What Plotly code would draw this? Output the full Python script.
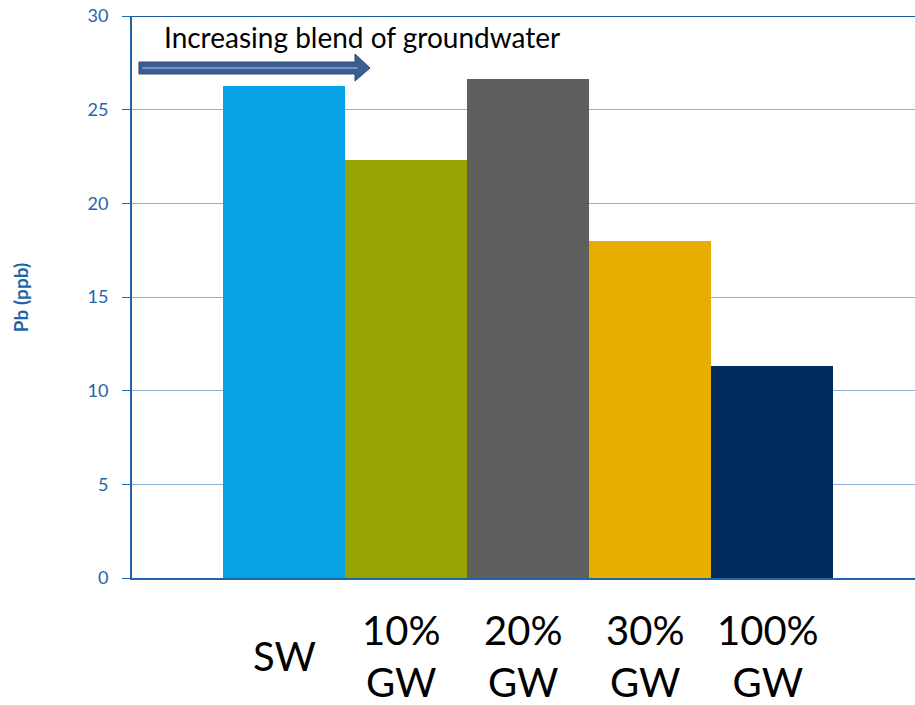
import plotly.graph_objects as go

# Lead concentration by source-water blend
categories = ["SW", "10% GW", "20% GW", "30% GW", "100% GW"]
lead_ppb = [26.27, 22.32, 26.64, 17.99, 11.32]
bar_colors = ["#05a3e3", "#98a200", "#5d5f5c", "#e5ae00", "#022b5d"]
axis_labels = ["SW", "10%<br>GW", "20%<br>GW", "30%<br>GW", "100%<br>GW"]
label_shift = [0, -5, -5, -5, -4]
y_ticks = [0, 5, 10, 15, 20, 25, 30]

AXIS_BLUE = "#1e66a8"
GRID_BLUE = "#8fb3d2"
FONT = "Lato, 'Open Sans', sans-serif"

fig = go.Figure()
fig.add_trace(go.Bar(
    x=categories,
    y=lead_ppb,
    marker=dict(color=bar_colors, line=dict(width=0)),
    width=1.0,
    showlegend=False,
))

# Large category labels under the bars
for cat, lab, dx in zip(categories, axis_labels, label_shift):
    fig.add_annotation(
        x=cat, y=-0.138, xref="x", yref="paper",
        text=lab, showarrow=False, xshift=dx,
        xanchor="center", yanchor="middle",
        font=dict(family=FONT, size=40, color="#000000"),
        align="center",
    )

# Direction arrow with lighter centre stroke
fig.add_shape(
    type="path", xref="paper", yref="paper",
    path="M 0.0089 0.9181 L 0.2848 0.9181 L 0.2848 0.9324 L 0.3040 0.9075 "
         "L 0.2848 0.8843 L 0.2848 0.8968 L 0.0089 0.8968 Z",
    fillcolor="#3a5e8f", line=dict(color="#2c4c7a", width=1),
)
fig.add_shape(
    type="line", xref="paper", yref="paper",
    x0=0.013, x1=0.288, y0=0.9075, y1=0.9075,
    line=dict(color="#6f95c8", width=2),
)
fig.add_annotation(
    x=0.0383, y=0.9626, xref="paper", yref="paper",
    text="Increasing blend of groundwater", showarrow=False,
    xanchor="left", yanchor="middle",
    font=dict(family=FONT, size=28, color="#000000"),
)

# Darker top rule at 30
fig.add_shape(
    type="line", xref="paper", yref="y",
    x0=0, x1=1, y0=30, y1=30,
    line=dict(color="#1f5c9a", width=2),
)

# Y axis title
fig.add_annotation(
    x=-0.143, y=0.498, xref="paper", yref="paper",
    text="<b>Pb (ppb)</b>", showarrow=False, textangle=-90,
    xanchor="center", yanchor="middle",
    font=dict(family=FONT, size=19, color=AXIS_BLUE),
)

fig.update_xaxes(
    range=[-1.248, 5.17],
    showticklabels=False,
    showline=True, linecolor=AXIS_BLUE, linewidth=2,
    showgrid=False, zeroline=False, ticks="",
)
fig.update_yaxes(
    range=[0, 30],
    tickvals=y_ticks,
    ticks="outside", ticklen=8, tickcolor=AXIS_BLUE, tickwidth=1,
    ticklabelstandoff=10,
    tickfont=dict(family=FONT, size=18, color=AXIS_BLUE),
    showline=True, linecolor=AXIS_BLUE, linewidth=2,
    showgrid=True, gridcolor=GRID_BLUE, gridwidth=1,
    zeroline=False,
)

fig.update_layout(
    width=915, height=705,
    margin=dict(l=132, r=0, t=16, b=127),
    paper_bgcolor="white", plot_bgcolor="white",
    bargap=0,
)

fig.write_html("out.html")
